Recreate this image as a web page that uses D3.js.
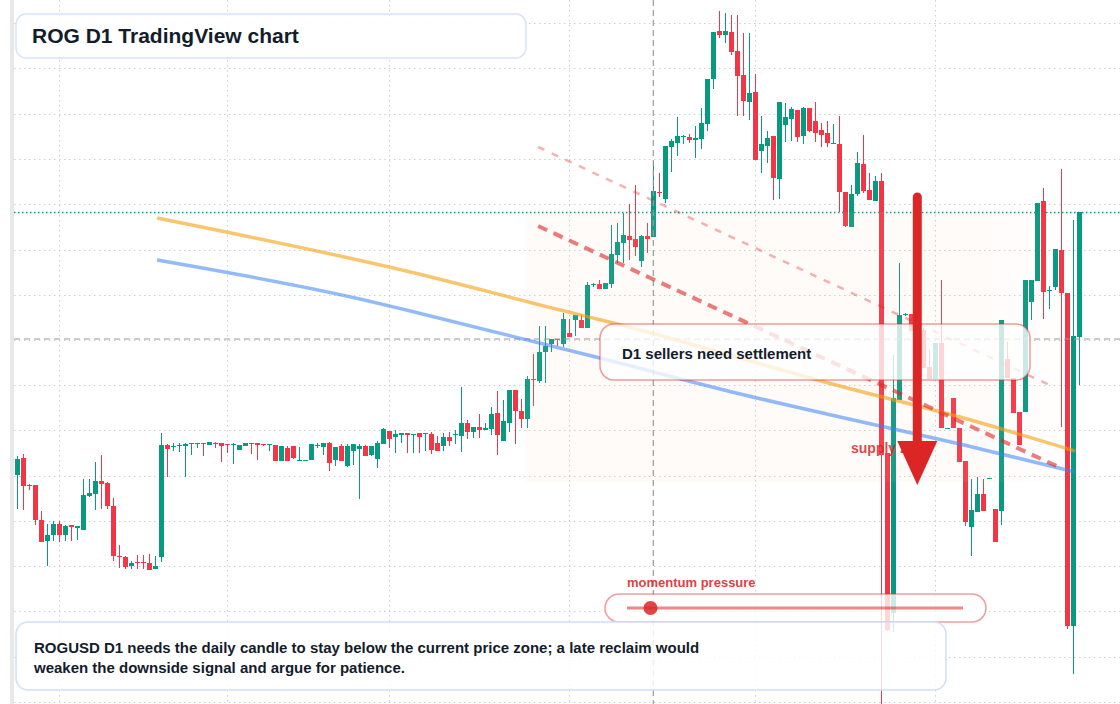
<!DOCTYPE html>
<html><head><meta charset="utf-8">
<script src="https://cdn.jsdelivr.net/npm/d3@7"></script>
<style>html,body{margin:0;padding:0;background:#fff;}svg{display:block;}</style>
</head><body>
<svg id="chart" width="1120" height="704"></svg>
<script>
// ---- data (daily candles, arbitrary price units) ----
const opens = [32.5,34.2,31.5,31.5,28.0,25.9,26.5,27.6,26.5,27.5,
27.2,27.0,30.4,30.6,31.9,31.7,29.4,24.4,24.3,23.4,
23.8,23.8,23.7,23.1,24.3,35.5,35.3,35.4,35.4,35.6,
35.6,35.7,35.5,35.7,35.7,35.6,35.5,35.0,35.4,35.7,
35.7,35.6,35.5,35.5,33.9,35.2,35.4,33.9,33.9,34.0,
35.4,35.3,35.7,34.0,35.4,33.4,34.9,35.1,35.4,34.5,
34.1,35.6,36.9,36.3,36.5,36.7,36.5,36.7,36.6,36.6,
35.7,35.4,36.3,36.5,36.4,37.7,36.8,37.3,37.0,37.1,
38.7,35.9,37.7,41.0,38.9,38.1,42.1,41.9,44.8,45.6,
46.1,45.6,46.7,48.0,48.0,47.2,51.5,51.6,51.1,51.6,
54.5,55.7,56.4,56.1,53.9,56.4,56.3,60.8,60.1,65.3,
65.7,66.3,66.3,66.0,66.1,67.6,72.1,76.9,76.5,76.8,
74.9,72.5,69.8,70.8,64.9,65.4,66.4,62.1,67.5,68.1,
69.0,66.4,69.2,67.9,67.0,66.7,65.6,65.6,60.8,57.3,
60.6,63.6,61.0,59.9,61.9,34.7,18.7,40.0,48.5,48.6,
46.9,47.0,43.3,42.1,45.7,37.1,40.2,37.2,33.9,27.3,
28.8,30.6,32.1,29.1,28.9,44.1,42.2,38.8,38.8,49.8,
51.9,59.9,50.9,51.3,55.0,50.7,17.4,46.3];
const highs = [34.4,34.6,31.6,31.5,28.9,27.6,27.9,27.9,27.5,27.5,
27.4,32.1,32.1,33.8,34.5,31.8,30.2,25.5,24.4,23.9,
24.5,24.5,24.6,24.4,36.7,35.6,35.7,35.7,35.7,35.7,
35.7,35.7,35.8,35.8,35.7,35.6,35.7,35.5,35.7,35.7,
35.7,35.6,35.6,35.5,35.4,35.4,35.4,35.3,34.0,35.6,
35.7,35.7,35.8,35.3,35.6,35.6,35.6,35.6,35.5,35.4,
35.9,37.2,36.9,37.0,36.7,36.7,36.6,36.7,36.7,36.8,
36.4,36.7,36.8,37.0,41.3,38.0,37.3,38.6,37.7,39.3,
40.9,40.0,41.0,41.0,40.1,42.4,44.6,47.4,47.4,46.1,
46.1,48.7,48.1,48.5,48.5,51.8,51.7,52.0,51.7,57.5,
57.7,58.7,59.6,61.5,56.5,57.7,63.8,62.7,65.4,66.1,
68.3,66.5,66.6,67.4,69.2,72.1,76.8,78.9,78.7,78.5,
78.5,76.7,76.7,72.6,68.4,66.9,66.4,69.8,69.7,69.3,
69.0,69.3,69.2,69.8,67.7,67.9,67.6,68.4,60.8,61.5,
64.8,66.5,62.7,62.4,62.7,34.7,44.5,53.7,48.7,48.6,
47.8,47.2,45.0,45.7,52.0,37.2,40.2,37.2,33.9,32.1,
32.3,32.1,32.2,29.1,48.0,45.8,42.2,38.8,52.0,52.0,
59.7,61.2,51.4,55.1,63.1,50.7,58.0,58.8];
const lows = [29.1,29.0,31.0,27.5,25.8,23.4,25.9,25.8,25.9,25.9,
26.0,27.0,30.3,29.0,29.1,29.1,23.9,23.2,23.1,23.1,
23.1,23.1,23.0,23.1,23.8,32.3,34.9,34.8,32.3,34.5,
35.2,34.4,35.5,35.2,33.8,34.7,33.6,35.0,35.4,34.6,
34.0,35.4,34.9,33.9,33.9,33.9,34.1,33.9,33.9,34.0,
35.2,34.5,32.9,33.4,33.9,33.3,33.5,30.1,34.4,34.4,
33.2,35.6,35.2,34.7,35.7,34.7,34.7,34.7,34.9,34.6,
34.9,34.9,35.4,35.6,34.8,36.1,36.2,36.2,37.0,36.5,
34.5,35.9,36.8,35.6,37.2,37.2,39.4,41.7,41.7,44.8,
45.4,45.3,46.3,46.4,47.2,47.2,51.3,51.1,51.1,51.2,
53.7,53.7,54.0,54.4,53.3,54.7,56.3,60.3,59.7,62.8,
64.4,65.6,65.7,64.2,65.1,66.9,71.1,76.2,75.7,74.5,
68.4,68.4,68.0,64.0,62.7,63.7,60.0,60.1,65.8,65.9,
65.8,65.6,66.8,65.8,65.3,65.3,65.6,58.8,57.3,57.3,
60.4,60.7,60.0,59.9,9.2,16.9,16.8,40.0,48.4,46.9,
46.0,43.2,42.1,42.1,37.2,37.1,37.2,33.8,27.4,24.4,
28.8,28.9,32.1,25.8,27.5,42.2,38.7,35.5,38.8,48.0,
51.9,48.1,49.1,51.0,37.3,17.1,12.6,41.5];
const closes = [34.1,31.4,31.4,28.0,25.8,26.5,27.6,26.5,27.4,27.3,
27.4,30.5,30.7,31.9,31.6,29.4,24.4,24.3,23.3,23.7,
23.7,23.7,23.0,23.4,35.5,35.1,35.4,35.5,35.6,35.7,
35.7,35.6,35.8,35.6,35.4,35.5,35.6,35.5,35.7,35.6,
35.5,35.5,35.6,33.9,35.4,33.9,34.2,34.0,34.0,35.6,
35.5,35.7,33.7,35.3,33.9,35.4,35.6,35.4,34.4,35.4,
35.7,37.1,36.1,36.6,36.7,36.5,36.6,36.3,36.7,35.0,
34.9,36.3,35.9,36.6,37.7,36.8,37.3,37.0,37.2,38.6,
36.5,37.9,41.0,38.9,38.1,42.1,42.0,44.8,45.4,46.1,
46.0,48.1,46.3,48.5,47.2,51.5,51.6,51.1,51.7,54.6,
55.8,56.5,56.0,55.3,56.4,56.1,60.9,60.7,65.4,65.9,
66.4,66.4,66.0,66.2,67.7,72.1,76.8,76.5,76.9,74.8,
72.4,69.9,70.7,64.0,65.6,66.2,62.2,69.8,68.3,69.1,
66.3,69.2,66.9,66.7,66.5,65.7,65.7,60.8,57.4,60.6,
63.7,60.9,60.0,61.9,34.5,17.0,40.2,48.5,48.6,46.9,
46.6,43.2,42.1,45.7,37.2,37.2,37.2,33.8,27.8,29.0,
30.6,28.9,32.2,25.8,48.0,42.2,38.7,35.5,52.0,52.0,
59.7,50.8,51.0,55.1,50.7,17.4,46.4,58.8];

const gridLevels = [77.7,73.2,68.6,64.1,59.6,55.0,50.5,46.0,41.5,37.0,32.4,27.9,23.4,18.9,14.3,9.8];
const gridCandles = [7,35,62,92,123,153];   // month boundaries
const lastPrice = 58.8;
const crossCandle = 106;
const crossPrice = 46.1;
const zoneRange = [84.75, 175];              // candle index span
const zonePrices = [58.8, 31.8];             // top, bottom
const orangeIdx = [23.3, 65.5, 90.5, 99.3, 137.1, 157.1, 176.3];
const orangeVal = [58.2, 52.8, 49.0, 47.7, 41.4, 38.3, 34.9];
const blueIdx = [23.3, 57.1, 65.5, 97.1, 120.5, 137.1, 157.1, 176.3];
const blueVal = [54.0, 50.1, 48.9, 44.2, 40.6, 38.3, 35.6, 32.8];
const upperTrendIdx = [86.8, 172.4];
const upperTrendVal = [65.3, 41.4];
const lowerTrendIdx = [86.8, 173.9];
const lowerTrendVal = [57.4, 33.2];
const arrowIdx = 150;
const arrowPrices = [60.3, 35.9, 31.5];      // shaft top, head base, tip
const momentumValue = 0.07;

const titleText = "ROG D1 TradingView chart";
const calloutText = "D1 sellers need settlement";
const zoneLabel = "supply zone";
const momentumLabel = "momentum pressure";
const noteLines = ["ROGUSD D1 needs the daily candle to stay below the current price zone; a late reclaim would",
                   "weaken the downside signal and argue for patience."];

// ---- drawing ----
const W = 1120, H = 704;
const UP = "#089981", DOWN = "#f23645";
const FONT = "'Liberation Sans', Arial, Helvetica, sans-serif";
const TEXT = "#131c2b";
const svg = d3.select("#chart");
const x = d3.scaleLinear().domain([0, 177]).range([17.3, 1079.3]);
const y = d3.scaleLinear().domain([9.6, 80]).range([704, 0]);
const candles = opens.map((o, i) => ({i, o, h: highs[i], l: lows[i], c: closes[i]}));

svg.append("rect").attr("width", W).attr("height", H).attr("fill", "#fff");
svg.append("rect").attr("x", 10).attr("y", 0).attr("width", 4).attr("height", H).attr("fill", "#e8e8e8");

const grid = svg.append("g").attr("stroke", "#cfcfcf").attr("stroke-width", 1).attr("stroke-dasharray", "1.5,3.5");
grid.selectAll("line.h").data(gridLevels).join("line").attr("class", "h")
  .attr("x1", 14).attr("x2", W).attr("y1", d => Math.round(y(d)) + 0.5).attr("y2", d => Math.round(y(d)) + 0.5);
grid.selectAll("line.v").data(gridCandles).join("line").attr("class", "v")
  .attr("y1", 0).attr("y2", H).attr("x1", d => Math.round(x(d)) + 0.5).attr("x2", d => Math.round(x(d)) + 0.5);

// last price line
svg.append("line").attr("x1", 14).attr("x2", W)
  .attr("y1", Math.round(y(lastPrice)) + 0.5).attr("y2", Math.round(y(lastPrice)) + 0.5)
  .attr("stroke", UP).attr("stroke-width", 1.3).attr("stroke-dasharray", "1.5,2.5");

// candles
const cg = svg.append("g");
cg.selectAll("line").data(candles).join("line")
  .attr("x1", d => Math.round(x(d.i)) + 0.5).attr("x2", d => Math.round(x(d.i)) + 0.5)
  .attr("y1", d => y(d.h)).attr("y2", d => y(d.l))
  .attr("stroke", d => d.c >= d.o ? UP : DOWN).attr("stroke-width", 1);
cg.selectAll("rect").data(candles).join("rect")
  .attr("x", d => Math.round(x(d.i)) - 2).attr("width", 5)
  .attr("y", d => y(Math.max(d.o, d.c)))
  .attr("height", d => Math.max(1, Math.abs(y(d.o) - y(d.c))))
  .attr("fill", d => d.c >= d.o ? UP : DOWN);

// zone overlay
const defs = svg.append("defs");
const zg = defs.append("linearGradient").attr("id", "zoneGrad").attr("x1", 0).attr("x2", 1).attr("y1", 0).attr("y2", 0);
zg.append("stop").attr("offset", "0%").attr("stop-color", "#f5c9ae").attr("stop-opacity", 0.08);
zg.append("stop").attr("offset", "85%").attr("stop-color", "#f5c9ae").attr("stop-opacity", 0.08);
zg.append("stop").attr("offset", "100%").attr("stop-color", "#f5c9ae").attr("stop-opacity", 0);
svg.append("rect").attr("x", x(zoneRange[0])).attr("width", x(zoneRange[1]) - x(zoneRange[0]))
  .attr("y", y(zonePrices[0])).attr("height", y(zonePrices[1]) - y(zonePrices[0]))
  .attr("fill", "url(#zoneGrad)");

// crosshair
const ch = svg.append("g").attr("stroke", "#9a9a9a").attr("stroke-width", 1.2).attr("stroke-dasharray", "6,4");
ch.append("line").attr("x1", 14).attr("x2", W).attr("y1", y(crossPrice)).attr("y2", y(crossPrice));
ch.append("line").attr("x1", x(crossCandle)).attr("x2", x(crossCandle)).attr("y1", 0).attr("y2", H);

// smooth average lines
const lineGen = d3.line().x(d => x(d[0])).y(d => y(d[1])).curve(d3.curveMonotoneX);
svg.append("path").attr("d", lineGen(orangeIdx.map((v, k) => [v, orangeVal[k]])))
  .attr("fill", "none").attr("stroke", "#f59e0b").attr("stroke-opacity", 0.6).attr("stroke-width", 3.5);
svg.append("path").attr("d", lineGen(blueIdx.map((v, k) => [v, blueVal[k]])))
  .attr("fill", "none").attr("stroke", "#3b82f6").attr("stroke-opacity", 0.55).attr("stroke-width", 3.5);

// dashed trend lines
const straight = d3.line().x(d => x(d[0])).y(d => y(d[1]));
svg.append("path").attr("d", straight(upperTrendIdx.map((v, k) => [v, upperTrendVal[k]])))
  .attr("fill", "none").attr("stroke", "#dc2626").attr("stroke-opacity", 0.35).attr("stroke-width", 2.5).attr("stroke-dasharray", "7,8");
svg.append("path").attr("d", straight(lowerTrendIdx.map((v, k) => [v, lowerTrendVal[k]])))
  .attr("fill", "none").attr("stroke", "#dc2626").attr("stroke-opacity", 0.6).attr("stroke-width", 4).attr("stroke-dasharray", "10,7");

// callout box
svg.append("rect").attr("x", 600).attr("y", 324).attr("width", 430).attr("height", 56).attr("rx", 14)
  .attr("fill", "#fff").attr("fill-opacity", 0.78).attr("stroke", "#dc2626").attr("stroke-opacity", 0.45).attr("stroke-width", 1.5);
svg.append("text").attr("x", 622).attr("y", 359).attr("font-family", FONT).attr("font-weight", 700)
  .attr("font-size", 15).attr("fill", TEXT).text(calloutText);

// momentum pill
const mScale = d3.scaleLinear().domain([0, 1]).range([627, 963]);
svg.append("text").attr("x", 627).attr("y", 587).attr("font-family", FONT).attr("font-weight", 700)
  .attr("font-size", 13).attr("fill", "#dc2626").attr("fill-opacity", 0.9).text(momentumLabel);
svg.append("rect").attr("x", 605).attr("y", 594).attr("width", 381).attr("height", 28).attr("rx", 14)
  .attr("fill", "#fff").attr("fill-opacity", 0.8).attr("stroke", "#dc2626").attr("stroke-opacity", 0.45).attr("stroke-width", 1.5);
svg.append("line").attr("x1", mScale(0)).attr("x2", mScale(1)).attr("y1", 608).attr("y2", 608)
  .attr("stroke", "#dc2626").attr("stroke-opacity", 0.55).attr("stroke-width", 3);
svg.append("circle").attr("cx", mScale(momentumValue)).attr("cy", 608).attr("r", 7).attr("fill", "#dc2626").attr("fill-opacity", 0.85);

// note box
svg.append("rect").attr("x", 16).attr("y", 622).attr("width", 930).attr("height", 68).attr("rx", 12)
  .attr("fill", "#fff").attr("fill-opacity", 0.82).attr("stroke", "#cfdff8").attr("stroke-width", 1.5);
svg.append("g").selectAll("text").data(noteLines).join("text")
  .attr("x", 34).attr("y", (d, k) => 653 + k * 20).attr("font-family", FONT).attr("font-weight", 700)
  .attr("font-size", 15).attr("fill", TEXT).text(d => d);

// title box
svg.append("rect").attr("x", 16).attr("y", 14).attr("width", 510).attr("height", 44).attr("rx", 10)
  .attr("fill", "#fff").attr("fill-opacity", 0.92).attr("stroke", "#d6e4fa").attr("stroke-width", 1.5);
svg.append("text").attr("x", 32).attr("y", 43).attr("font-family", FONT).attr("font-weight", 700)
  .attr("font-size", 21).attr("fill", TEXT).text(titleText);

// supply zone label + arrow
svg.append("text").attr("x", 851).attr("y", 453).attr("font-family", FONT).attr("font-weight", 700)
  .attr("font-size", 14).attr("fill", "#dc2626").attr("fill-opacity", 0.85).text(zoneLabel);
const ax = x(arrowIdx);
svg.append("line").attr("x1", ax).attr("x2", ax).attr("y1", y(arrowPrices[0])).attr("y2", y(arrowPrices[1]) + 4)
  .attr("stroke", "#dc2626").attr("stroke-width", 9).attr("stroke-linecap", "round");
svg.append("path")
  .attr("d", `M${ax - 20},${y(arrowPrices[1])} L${ax + 20},${y(arrowPrices[1])} L${ax},${y(arrowPrices[2])} Z`)
  .attr("fill", "#dc2626");
</script>
</body></html>
